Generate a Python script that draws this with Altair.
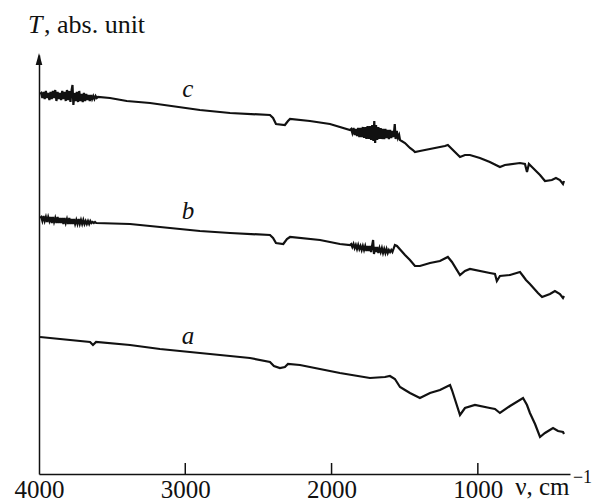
import altair as alt
import pandas as pd

# (wavenumber cm^-1, transmittance abs. unit)
CURVE_C = [
    (3993, 38.0), (3985, 38.1), (3977, 37.6), (3969, 38.2), (3961, 37.5), (3953, 38.3), (3945, 37.6),
    (3937, 38.1), (3929, 37.4), (3921, 38.2), (3913, 37.5), (3905, 38.3), (3897, 37.6), (3889, 38.4),
    (3881, 37.3), (3873, 38.2), (3865, 37.5), (3857, 38.1), (3849, 37.4), (3841, 38.3), (3833, 37.5),
    (3825, 38.2), (3817, 37.3), (3809, 38.4), (3801, 37.4), (3793, 38.3), (3785, 37.2), (3777, 38.4),
    (3771, 38.9), (3765, 36.9), (3757, 38.1), (3749, 37.3), (3741, 38.2), (3733, 37.2), (3725, 38.3),
    (3717, 37.3), (3709, 38.0), (3701, 37.2), (3693, 38.1), (3685, 37.3), (3677, 38.0), (3669, 37.4),
    (3661, 37.9), (3653, 37.3), (3645, 37.9), (3637, 37.5), (3629, 37.8), (3621, 37.5), (3613, 37.8),
    (3605, 37.6), (3597, 37.7), (3515, 37.6), (3400, 37.3), (3241, 37.1), (2900, 36.4), (2694, 36.1),
    (2421, 35.9), (2400, 35.6), (2380, 35.0), (2319, 34.9), (2298, 35.3), (2284, 35.5), (2148, 35.3),
    (2011, 35.0), (1874, 34.4), (1866, 34.5), (1858, 34.1), (1850, 34.6), (1842, 33.9), (1834, 34.5),
    (1826, 33.8), (1818, 34.6), (1810, 33.7), (1802, 34.6), (1794, 33.7), (1786, 34.7), (1778, 33.6),
    (1770, 34.7), (1762, 33.5), (1754, 34.8), (1746, 33.5), (1738, 34.8), (1730, 33.4), (1722, 34.9),
    (1714, 33.3), (1708, 35.3), (1702, 33.1), (1696, 34.9), (1688, 33.4), (1680, 34.7), (1672, 33.5),
    (1664, 34.6), (1656, 33.5), (1648, 34.5), (1640, 33.5), (1632, 34.5), (1624, 33.6), (1616, 34.4),
    (1608, 33.5), (1600, 34.4), (1592, 33.6), (1584, 34.3), (1576, 33.7), (1568, 35.0), (1562, 33.5),
    (1554, 34.3), (1546, 33.6), (1538, 33.9), (1532, 33.4), (1498, 33.1), (1464, 32.6), (1444, 32.4),
    (1430, 32.2), (1396, 32.3), (1362, 32.4), (1225, 32.8), (1205, 32.9), (1122, 31.7), (1088, 31.9),
    (1054, 31.9), (986, 31.6), (918, 31.2), (849, 30.7), (815, 30.9), (712, 31.1), (678, 31.0),
    (664, 30.2), (651, 31.0), (630, 30.7), (575, 29.9), (541, 29.3), (494, 29.4), (466, 29.6),
    (439, 29.4), (418, 29.0), (411, 29.3),
]

CURVE_B = [
    (3993, 25.6), (3985, 25.7), (3977, 25.3), (3969, 25.8), (3961, 25.3), (3953, 25.7), (3945, 25.2),
    (3937, 25.7), (3929, 25.3), (3921, 25.7), (3913, 25.1), (3905, 25.7), (3897, 25.2), (3889, 25.6),
    (3881, 25.1), (3873, 25.7), (3865, 25.1), (3857, 25.6), (3849, 25.1), (3841, 25.6), (3833, 25.0),
    (3825, 25.6), (3817, 25.1), (3809, 25.5), (3801, 25.0), (3793, 25.6), (3785, 25.0), (3777, 25.5),
    (3769, 25.0), (3761, 25.5), (3753, 25.0), (3745, 25.4), (3737, 25.0), (3729, 25.5), (3721, 25.0),
    (3713, 25.4), (3705, 25.0), (3697, 25.4), (3689, 25.0), (3681, 25.3), (3673, 25.0), (3665, 25.3),
    (3657, 25.0), (3649, 25.3), (3641, 25.1), (3633, 25.2), (3625, 25.1), (3617, 25.2), (3609, 25.1),
    (3378, 25.0), (3173, 24.7), (2900, 24.3), (2694, 24.1), (2421, 23.9), (2400, 23.6), (2380, 23.1),
    (2330, 23.0), (2305, 23.5), (2284, 23.7), (2079, 23.4), (1943, 23.0), (1874, 22.9), (1866, 23.0),
    (1858, 22.7), (1850, 23.0), (1842, 22.6), (1834, 22.9), (1826, 22.5), (1818, 22.9), (1810, 22.5),
    (1802, 22.8), (1794, 22.4), (1786, 22.8), (1778, 22.4), (1770, 22.8), (1762, 22.3), (1754, 22.8),
    (1746, 22.3), (1738, 22.8), (1730, 22.2), (1722, 22.9), (1716, 23.4), (1710, 22.0), (1704, 22.7),
    (1696, 22.2), (1688, 22.7), (1680, 22.1), (1672, 22.6), (1664, 22.2), (1656, 22.6), (1648, 22.1),
    (1640, 22.5), (1632, 22.1), (1624, 22.5), (1616, 22.1), (1608, 22.4), (1600, 22.2), (1592, 22.4),
    (1584, 22.2), (1567, 22.9), (1553, 22.8), (1498, 21.9), (1464, 21.4), (1430, 20.8), (1396, 20.8),
    (1327, 21.1), (1259, 21.3), (1205, 21.7), (1177, 21.2), (1122, 19.9), (1088, 20.3), (1054, 20.5),
    (918, 20.1), (883, 20.0), (870, 19.3), (849, 19.8), (780, 19.9), (712, 20.2), (691, 19.8),
    (671, 19.4), (644, 19.0), (589, 18.1), (561, 17.7), (507, 18.0), (473, 18.3), (439, 18.0),
    (418, 17.6), (411, 17.8),
]

CURVE_A = [
    (3993, 13.7), (3856, 13.5), (3651, 13.2), (3631, 12.9), (3610, 13.2), (3378, 12.9), (3173, 12.5),
    (2900, 12.1), (2694, 11.8), (2558, 11.6), (2421, 11.2), (2394, 10.8), (2353, 10.6), (2319, 10.7),
    (2298, 11.0), (2216, 10.9), (2148, 10.7), (1943, 10.1), (1738, 9.6), (1635, 9.7), (1601, 9.8),
    (1567, 9.5), (1532, 8.7), (1498, 8.4), (1464, 8.1), (1396, 7.6), (1327, 8.1), (1259, 8.4),
    (1190, 8.9), (1177, 8.4), (1122, 5.9), (1088, 6.6), (1020, 6.9), (918, 6.6), (883, 6.5),
    (849, 6.1), (780, 6.8), (691, 7.6), (664, 6.9), (644, 6.1), (609, 5.0), (575, 3.7), (541, 4.1),
    (486, 4.6), (452, 4.3), (418, 4.2), (411, 4.0),
]

SERIES = ["c", "b", "a"]
TICK_VALUES = [4000, 3000, 2000, 1000]
INNER_TICKS = [3000, 2000, 1000]
LABEL_NU = [2982, 2982, 2982]
LABEL_T = [38.5, 26.3, 13.8]

X_DOMAIN = [4000, 370]
Y_DOMAIN = [0, 41.9]

rows = []
for name, pts in zip(SERIES, [CURVE_C, CURVE_B, CURVE_A]):
    for i, (n, t) in enumerate(pts):
        rows.append({"series": name, "nu": n, "T": t, "idx": i})
df = pd.DataFrame(rows)

FONT = "Liberation Serif"
INK = "#111111"
xs = alt.Scale(domain=X_DOMAIN, nice=False, zero=False)
ys = alt.Scale(domain=Y_DOMAIN, nice=False, zero=False)

lines = alt.Chart(df).mark_line(color=INK, strokeWidth=2.2, strokeJoin="miter").encode(
    x=alt.X("nu:Q", scale=xs,
            axis=alt.Axis(values=TICK_VALUES, format="d", title=None, grid=False,
                          ticks=False, tickSize=0, labelPadding=3, labelFont=FONT,
                          labelFontSize=25, labelColor=INK, domainColor=INK,
                          domainWidth=1.5, labelFlush=False, labelOverlap=False)),
    y=alt.Y("T:Q", scale=ys,
            axis=alt.Axis(title=None, labels=False, ticks=False, grid=False,
                          domainColor=INK, domainWidth=1.5)),
    detail="series:N",
    order="idx:Q",
)

ticks_df = pd.DataFrame({"nu": INNER_TICKS, "y0": [0.0] * 3, "y1": [1.1] * 3})
ticks = alt.Chart(ticks_df).mark_rule(color=INK, strokeWidth=1.5).encode(
    x=alt.X("nu:Q", scale=xs), y=alt.Y("y0:Q", scale=ys), y2="y1:Q")

arrow_df = pd.DataFrame({"nu": [4000], "T": [41.5]})
arrow = alt.Chart(arrow_df).mark_point(
    shape="M0,-1L0.55,1L-0.55,1Z", filled=True, color=INK, size=144, opacity=1
).encode(x=alt.X("nu:Q", scale=xs), y=alt.Y("T:Q", scale=ys))

lab_df = pd.DataFrame({"nu": LABEL_NU, "T": LABEL_T, "txt": SERIES})
labels = alt.Chart(lab_df).mark_text(font=FONT, fontSize=25, fontStyle="italic",
                                     color=INK, baseline="middle").encode(
    x=alt.X("nu:Q", scale=xs), y=alt.Y("T:Q", scale=ys), text="txt:N")

ytitle_T = alt.Chart(pd.DataFrame({"nu": [4075], "T": [44.1], "txt": ["T"]})).mark_text(
    font=FONT, fontSize=26, fontStyle="italic", align="left", baseline="alphabetic",
    color=INK).encode(x=alt.X("nu:Q", scale=xs), y=alt.Y("T:Q", scale=ys), text="txt:N")
ytitle_rest = alt.Chart(pd.DataFrame({"nu": [3966], "T": [44.1], "txt": [", abs. unit"]})).mark_text(
    font=FONT, fontSize=26, align="left", baseline="alphabetic",
    color=INK).encode(x=alt.X("nu:Q", scale=xs), y=alt.Y("T:Q", scale=ys), text="txt:N")

xtitle = alt.Chart(pd.DataFrame({"nu": [745], "T": [-2.1], "txt": ["ν, cm"]})).mark_text(
    font=FONT, fontSize=25, align="left", baseline="alphabetic", color=INK).encode(
    x=alt.X("nu:Q", scale=xs), y=alt.Y("T:Q", scale=ys), text="txt:N")
xsup = alt.Chart(pd.DataFrame({"nu": [350], "T": [-0.9], "txt": ["−1"]})).mark_text(
    font=FONT, fontSize=18, align="left", baseline="alphabetic", color=INK).encode(
    x=alt.X("nu:Q", scale=xs), y=alt.Y("T:Q", scale=ys), text="txt:N")

chart = alt.layer(lines, ticks, arrow, labels, ytitle_T, ytitle_rest, xtitle, xsup).properties(
    width=531, height=419,
    autosize=alt.AutoSizeParams(type="none"),
    padding={"left": 39, "top": 55, "right": 42, "bottom": 28},
    background="white",
).configure_view(stroke=None)

chart.save("out.html", embed_options={"renderer": "svg", "actions": False})
